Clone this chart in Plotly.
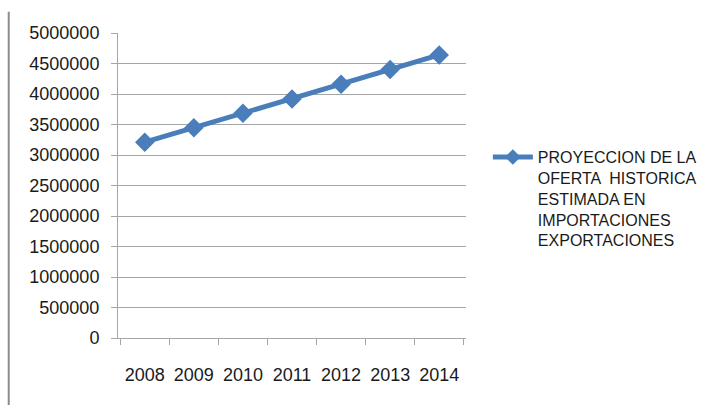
import plotly.graph_objects as go

# Annual projection of the historic supply (imports / exports)
years = ["2008", "2009", "2010", "2011", "2012", "2013", "2014"]
oferta = [3210000, 3445000, 3685000, 3920000, 4160000, 4400000, 4640000]
y_ticks = [0, 500000, 1000000, 1500000, 2000000, 2500000, 3000000,
           3500000, 4000000, 4500000, 5000000]
series_name = ("PROYECCION DE LA<br>OFERTA  HISTORICA<br>ESTIMADA EN<br>"
               "IMPORTACIONES<br>EXPORTACIONES")

blue = "#4a7ebb"
grid = "#a6a6a6"

fig = go.Figure()
fig.add_trace(go.Scatter(
    x=years, y=oferta, name=series_name, mode="lines+markers",
    line=dict(color=blue, width=5),
    marker=dict(symbol="diamond", size=15, color=blue),
))

fig.update_layout(
    width=705, height=406,
    margin=dict(l=118, r=239, t=33, b=68),
    paper_bgcolor="white", plot_bgcolor="white",
    font=dict(family="Liberation Sans", size=18, color="#1a1a1a"),
    showlegend=True,
    legend=dict(
        x=0.692, y=0.655, xref="container", yref="container",
        xanchor="left", yanchor="top", valign="top",
        itemwidth=40, itemsizing="constant",
        font=dict(family="Liberation Sans", size=16, color="#1a1a1a"),
        bgcolor="rgba(0,0,0,0)",
    ),
    xaxis=dict(
        type="category", tickson="boundaries",
        ticks="outside", ticklen=6, tickcolor=grid,
        showline=True, linecolor=grid, linewidth=1,
        showgrid=False, ticklabelstandoff=20,
    ),
    yaxis=dict(
        range=[0, 5000000], tickvals=y_ticks,
        tickformat="d",
        ticks="outside", ticklen=6, tickcolor=grid,
        showline=True, linecolor=grid, linewidth=1,
        showgrid=True, gridcolor=grid, gridwidth=1,
        zeroline=False, ticklabelstandoff=8,
    ),
    shapes=[dict(
        type="line", xref="paper", yref="paper",
        x0=-0.314, x1=-0.314, y0=-0.22, y1=1.07,
        line=dict(color="#8c8c8c", width=2),
    )],
)

fig.write_html("out.html")
